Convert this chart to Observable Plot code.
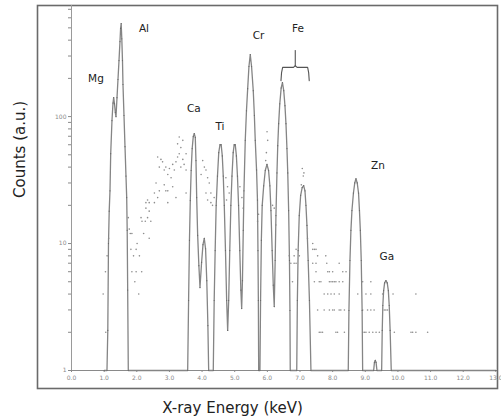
<!DOCTYPE html>
<html>
<head>
<meta charset="utf-8">
<script src="https://cdn.jsdelivr.net/npm/d3@7"></script>
<script src="https://cdn.jsdelivr.net/npm/@observablehq/plot@0.6"></script>
<style>
  body { margin: 0; background: #fff; }
  #chart svg { overflow: visible; }
</style>
</head>
<body>
<div id="chart"></div>
<script>
// Fitted spectrum line: [energy keV, counts]
const spectrumLine = [
  [1.00,1],
  [1.087,1],[1.112,2.07],[1.133,10],[1.155,18],[1.179,26],[1.201,51],[1.240,93],[1.271,128],[1.292,141],
  [1.317,126],[1.342,108],[1.363,100],[1.394,141],[1.424,196],[1.455,276],[1.485,390],[1.504,495],[1.522,540],
  [1.541,410],[1.562,276],[1.577,179],[1.608,102],[1.639,58],[1.669,34],[1.691,23],[1.706,12.7],[1.721,4.3],[1.740,1],
  [3.559,1],[3.587,3.56],[3.614,10.6],[3.639,21.8],[3.666,37.6],[3.697,56],[3.730,69.6],[3.761,73.5],[3.792,68.6],
  [3.813,45],[3.835,23],[3.865,11.6],[3.902,6.7],[3.936,4.5],[3.985,7.1],[4.028,9.8],[4.067,11],[4.107,9.1],
  [4.144,5.1],[4.178,2.26],[4.202,1],
  [4.343,1],[4.371,3.56],[4.401,8.8],[4.432,20],[4.472,34],[4.511,52],[4.548,60],[4.585,60],[4.619,49],[4.649,34],
  [4.680,20],[4.717,8.8],[4.753,3.56],[4.784,2.07],
  [4.815,3.56],[4.848,8.8],[4.882,20],[4.916,34],[4.953,52],[4.983,60],[5.017,60],[5.051,49],[5.084,34],[5.118,20],
  [5.155,8.8],[5.188,4.3],[5.213,3.08],
  [5.237,5.1],[5.262,12.7],[5.283,26],[5.323,65],[5.360,111],[5.397,166],[5.436,248],[5.476,308],[5.516,248],
  [5.568,160],[5.602,102],[5.629,65],[5.669,38],[5.697,22],[5.712,8.8],[5.724,3.56],[5.734,1],
  [5.773,1],[5.792,3.56],[5.816,10.6],[5.842,20],[5.888,28.5],[5.936,37.6],[5.988,42],[6.037,37.6],[6.077,28.5],
  [6.110,18.2],[6.147,8.8],[6.181,4.7],[6.211,3.19],
  [6.239,7.35],[6.263,16.6],[6.294,36],[6.318,59],[6.346,88],[6.380,126],[6.423,168],[6.462,185],[6.502,160],
  [6.539,122],[6.570,88],[6.600,56],[6.625,36],[6.652,18.2],[6.677,7.35],[6.692,2.97],[6.701,1],
  [6.900,1],[6.919,3.56],[6.943,8.8],[6.977,16.6],[7.020,24],[7.066,27.6],[7.112,28.6],[7.152,26],[7.182,20],
  [7.213,13.9],[7.250,7.35],[7.289,3.56],[7.335,1],
  [8.478,1],[8.499,2.97],[8.530,7.35],[8.560,12.7],[8.591,18.2],[8.637,25],[8.677,30],[8.714,32.4],[8.753,30],
  [8.793,25],[8.821,18.2],[8.848,12.7],[8.876,7.35],[8.903,2.97],[8.919,1],
  [9.256,1],[9.280,1.16],[9.305,1.2],[9.330,1.16],[9.357,1],
  [9.501,1],[9.519,2.07],[9.537,3.25],[9.562,4.26],[9.592,4.9],[9.632,5.1],[9.672,4.9],[9.706,4.26],[9.733,3.25],
  [9.761,2.07],[9.795,1],
  [13.0,1]
];

// Measured background points (low-energy cloud): [energy keV, counts]
const cloudPoints = [
  [0.97,4],[1.04,6],[1.05,2],[1.09,8],[1.14,11],
  [1.74,16],[1.77,13],[1.80,12],[1.85,12],[1.82,9],[1.98,9],[1.90,8],[2.08,8],[1.85,6],[1.98,6],[2.15,6],
  [1.94,5],[2.06,4],[2.01,10],[2.21,12],[2.38,11],[2.16,15],[2.26,15],[2.43,15],[2.13,16],[2.33,16],[2.38,18],
  [2.28,19],[2.38,21],[2.28,21],[2.54,21],[2.33,22],[2.95,21],[2.89,26],[3.51,25],
  [2.64,48],[2.74,46],[2.69,40],[2.79,44],[2.84,38],[2.89,40],[2.95,35],[3.00,39],[3.05,33],[3.10,42],[3.15,38],
  [3.20,44],[3.25,48],[3.30,51],[3.35,40],[3.41,46],[3.45,42],[3.51,38],[3.25,61],[3.35,57],[3.41,65],[3.30,69],
  [3.51,51],[2.59,30],[2.54,25],[2.69,26],[2.64,23],[2.84,29],[2.95,26],[3.10,28],[3.20,23],
  [4.02,45],[4.07,40],[4.12,38],[4.17,33],[3.97,35],[4.22,30],[4.27,25],[4.37,23],[4.12,25],[4.17,22],[4.27,21],[4.32,20],
  [4.73,33],[4.78,28],[4.83,25],[4.75,22],[5.16,28],[5.22,23],[5.26,19],
  [5.70,15],[5.73,17],[6.16,20],[6.21,19],[6.26,14],
  [5.99,76],[6.01,65],[5.97,52],[5.95,45],
  [7.07,39],[7.10,34],[7.04,29],[7.12,36]
];

// Measured background points (high-energy, integer counts): [energy keV, counts]
const tailPoints = [
  [7.23,11],[7.39,10],
  [6.88,9],[7.39,9],[7.44,9],[7.49,9],
  [6.67,8],[6.82,8],[6.98,8],[7.54,8],[7.79,8],
  [6.72,7],[6.82,7],[6.88,7],[7.39,7],[7.49,7],[7.82,7],[8.20,7],
  [7.49,6],[7.85,6],[7.90,6],[8.00,6],[8.31,6],[8.41,6],
  [6.77,5],[7.44,5],[7.59,5],[7.64,5],[7.90,5],[7.95,5],[8.00,5],[8.05,5],[8.10,5],[8.20,5],[8.31,5],[8.92,5],[9.17,5],
  [7.74,4],[7.85,4],[7.95,4],[8.05,4],[8.20,4],[8.77,4],[9.02,4],[9.17,4],[9.53,4],[9.85,4],[10.55,4],
  [7.54,3],[7.74,3],[7.90,3],[8.00,3],[8.05,3],[8.20,3],[8.25,3],[8.36,3],[8.92,3],[9.07,3],[9.17,3],[9.27,3],
  [9.58,3],[9.63,3],[9.68,3],
  [7.59,2],[7.64,2],[7.69,2],[8.10,2],[8.15,2],[8.36,2],[8.92,2],[8.97,2],[9.02,2],[9.12,2],[9.23,2],[9.33,2],
  [9.43,2],[9.89,2],[10.40,2],[10.45,2],[10.55,2],[10.91,2]
];

// Element labels
const elementNames  = ["Mg", "Al", "Ca", "Ti", "Cr", "Fe", "Zn", "Ga"];
const elementEnergy = [0.75, 2.22, 3.75, 4.55, 5.73, 6.94, 9.39, 9.66];
const elementCounts = [199, 493, 116, 83, 434, 493, 41, 7.9];

// Fe brace (energy keV, counts)
const braceEnergy = [6.417, 6.435, 6.468, 6.80, 6.855, 6.91, 7.234, 7.265, 7.283];
const braceCounts = [192, 222, 244, 244, 252, 244, 244, 222, 192];
const stemEnergy = [6.855, 6.855];
const stemCounts = [252, 331];

// Axes
const xTicks = [0,1,2,3,4,5,6,7,8,9,10,11,12,13];
const yTicks = [1,2,3,4,5,6,7,8,9,10,20,30,40,50,60,70,80,90,100,200,300,400,500,600,700];
const yTickLabels = [1, 10, 100];
const xTitle = "X-ray Energy (keV)";
const yTitle = "Counts (a.u.)";

const labels = elementNames.map((n, i) => ({name: n, e: elementEnergy[i], c: elementCounts[i]}));
const brace = braceEnergy.map((e, i) => ({e, c: braceCounts[i]}));
const stem = stemEnergy.map((e, i) => ({e, c: stemCounts[i]}));
const background = cloudPoints.concat(tailPoints);

const chart = Plot.plot({
  width: 501,
  height: 419,
  marginTop: 5,
  marginRight: 4,
  marginBottom: 49,
  marginLeft: 71,
  style: {fontFamily: "'DejaVu Sans', Verdana, sans-serif", background: "#fff", overflow: "visible"},
  x: {domain: [0, 13.05], label: null},
  y: {type: "log", domain: [1, 750], label: null},
  marks: [
    Plot.frame({stroke: "#6a6a6a", strokeWidth: 1.6, insetLeft: -34, insetBottom: -18}),
    Plot.axisX(xTicks, {tickSize: 2, tickPadding: 3, tickFormat: d => d.toFixed(1), fontSize: 6, color: "#8a8a8a", label: null}),
    Plot.axisY(yTicks, {tickSize: 3, tickPadding: 2, tickFormat: d => yTickLabels.includes(d) ? String(d) : "", fontSize: 6, color: "#8a8a8a", label: null}),
    Plot.ruleX([0], {stroke: "#9a9a9a", strokeWidth: 1}),
    Plot.ruleY([1], {stroke: "#8a8a8a", strokeWidth: 1}),
    Plot.dot(background, {x: d => d[0], y: d => d[1], r: 0.8, fill: "#8c8c8c", stroke: "none"}),
    Plot.line(spectrumLine, {x: d => d[0], y: d => d[1], stroke: "#858585", strokeWidth: 1.3}),
    Plot.dot(spectrumLine, {x: d => d[0], y: d => d[1], r: 0.6, fill: "#666", stroke: "none"}),
    Plot.line(brace, {x: "e", y: "c", stroke: "#555", strokeWidth: 1.1}),
    Plot.line(stem, {x: "e", y: "c", stroke: "#555", strokeWidth: 1.1}),
    Plot.text(labels, {x: "e", y: "c", text: "name", fontSize: 10.5, fill: "#222", textAnchor: "middle", lineAnchor: "middle"}),
    Plot.text([xTitle], {text: d => d, frameAnchor: "bottom", dx: -52, dy: 38, fontSize: 15, fill: "#222", lineAnchor: "middle"}),
    Plot.text([yTitle], {text: d => d, frameAnchor: "left", rotate: -90, dx: -51, dy: 10, fontSize: 15, fill: "#222", lineAnchor: "middle"})
  ]
});
document.getElementById("chart").appendChild(chart);
</script>
</body>
</html>
